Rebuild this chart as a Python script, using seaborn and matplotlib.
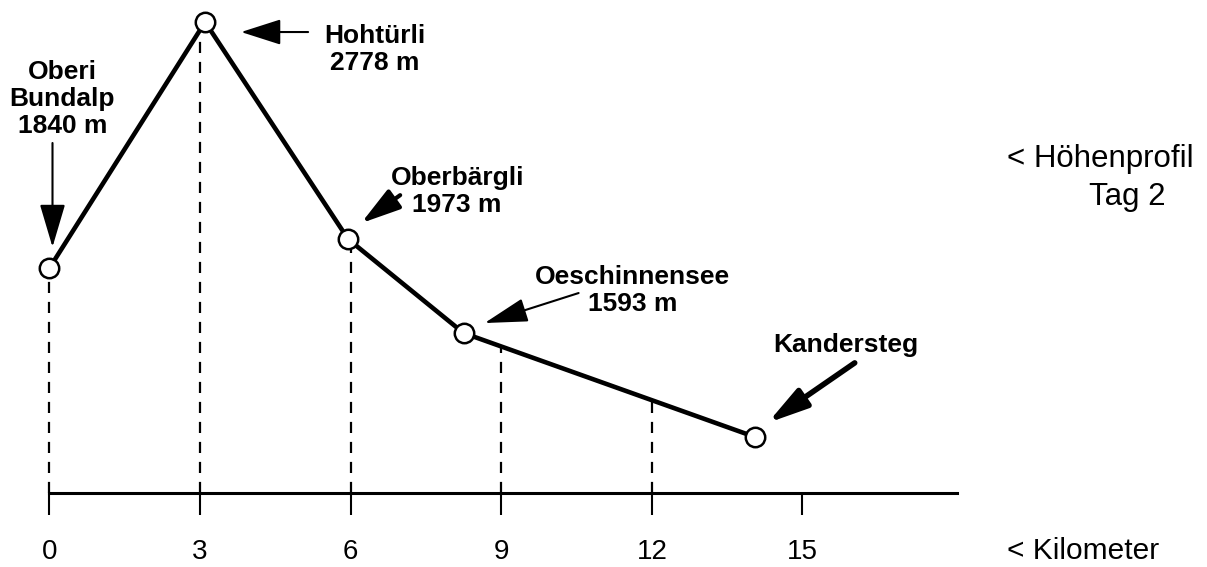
import matplotlib
matplotlib.use("Agg")
import matplotlib.pyplot as plt
import matplotlib.transforms as mtransforms
import numpy as np
import seaborn as sns

# Höhenprofil Tag 2: stops along the route
stops = ["Oberi\nBundalp\n1840 m", "Hohtürli\n2778 m", "Oberbärgli\n1973 m",
         "Oeschinnensee\n1593 m", "Kandersteg"]
km = [0.0, 3.1, 5.95, 8.25, 14.05]
elev = [1840, 2778, 1950, 1592, 1196]

km_ticks = [0, 3, 6, 9, 12, 15]
dash_km = [0, 3, 6, 9, 12]

# label / arrow layout in pixel offsets from each stop (label = last baseline)
label_off = [(13, 135), (170, -48), (109, 27), (169, 22), (91, 85)]
arrow_tail = [(3, 125), (103, -10), (52, 44), (115, 40), (100, 74)]
arrow_tip = [(3, 21), (36, -10), (13, 16), (21, 10), (13, 14)]
arrow_lw = [1.5, 1.5, 3.0, 1.5, 4.0]
arrow_head = [(27, 8), (25, 8), (24, 7), (27, 7.5), (24, 6.5)]

W, H = 1207, 567

sns.set_style("white")
plt.rcParams["font.family"] = ["Liberation Sans", "DejaVu Sans"]
plt.rcParams["text.color"] = "black"
plt.rcParams["xtick.color"] = "black"

fig = plt.figure(figsize=(W / 100, H / 100), dpi=100)
ax = fig.add_axes([49.5 / W, 74 / H, (957 - 49.5) / W, 493 / H])
ax.set_xlim(0, 18.08)
ax.set_ylim(982, 2862)

# dashed drop lines from the profile down to the km axis
for d in dash_km:
    top = np.interp(d, km, elev)
    ax.plot([d, d], [982, top], color="black", lw=1.6, ls=(0, (5, 4)),
            zorder=1, clip_on=False)

sns.lineplot(x=km, y=elev, ax=ax, sort=False, color="black", lw=3.3,
             marker="o", markersize=14, markerfacecolor="white",
             markeredgecolor="black", markeredgewidth=1.8, clip_on=False, zorder=3)

for i, name in enumerate(stops):
    x, y = km[i], elev[i]
    ax.annotate(name, xy=(x, y), xytext=label_off[i], textcoords="offset pixels",
                ha="center", va="baseline", fontsize=19, fontweight="bold",
                linespacing=1.17, color="black", annotation_clip=False)
    tip = mtransforms.offset_copy(ax.transData, fig=fig, x=arrow_tip[i][0],
                                  y=arrow_tip[i][1], units="dots")
    hl, hw = arrow_head[i]
    ax.annotate("", xy=(x, y), xycoords=tip,
                xytext=(arrow_tail[i][0] - arrow_tip[i][0], arrow_tail[i][1] - arrow_tip[i][1]),
                textcoords="offset pixels", annotation_clip=False,
                arrowprops=dict(arrowstyle=f"-|>,head_length={hl},head_width={hw}",
                                mutation_scale=1, lw=arrow_lw[i], color="black",
                                shrinkA=0, shrinkB=0))

for s in ["left", "top", "right"]:
    ax.spines[s].set_visible(False)
ax.spines["bottom"].set_linewidth(2.2)
ax.spines["bottom"].set_color("black")
ax.set_yticks([])
ax.set_xticks(km_ticks)
ax.set_xticklabels([str(t) for t in km_ticks])
ax.tick_params(axis="x", direction="out", length=16, width=1.5, color="black",
               labelcolor="black", pad=17, labelsize=20, bottom=True)

fig.text(1007 / W, 1 - 167 / H, "< Höhenprofil", fontsize=22.5, ha="left", va="baseline")
fig.text(1127 / W, 1 - 205 / H, "Tag 2", fontsize=22.5, ha="center", va="baseline")
fig.text(1007 / W, 1 - 559 / H, "< Kilometer", fontsize=21.5, ha="left", va="baseline")

fig.savefig("out.png", dpi=100)
